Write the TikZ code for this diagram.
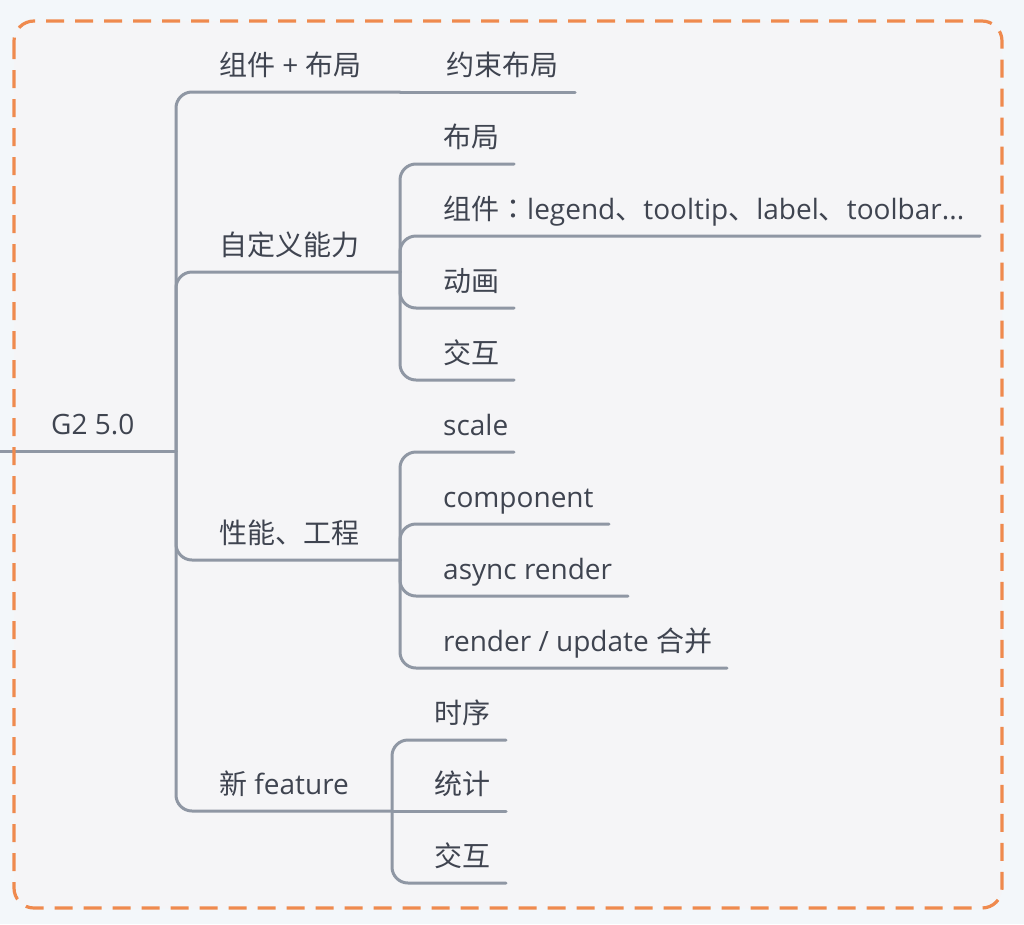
\documentclass[tikz,border=0pt]{standalone}
\usepackage{fontspec}
\setmainfont{Open Sans}
\newfontfamily\cjk{Noto Sans CJK SC}
\newfontfamily\cjktc{Noto Sans CJK TC}
\definecolor{outerbg}{HTML}{F3F7FA}
\definecolor{innerbg}{HTML}{F5F5F7}
\definecolor{framec}{HTML}{EF8A4E}
\definecolor{linec}{HTML}{8F97A4}
\definecolor{textc}{HTML}{3F4450}
\tikzset{
  link/.style={draw=linec, line width=3pt, rounded corners=16pt, line cap=round},
  lbl/.style={anchor=base west, inner sep=0pt, text=textc, font=\fontsize{28}{30}\selectfont},
}
\begin{document}
\begin{tikzpicture}[x=1pt, y=-1pt]
\useasboundingbox (0,0) rectangle (1024,924);
\fill[outerbg] (0,0) rectangle (1024,924);
\fill[innerbg, rounded corners=20pt] (14,21) rectangle (1002,908);

% branch points and end points
\coordinate (rootL) at (0,451);
\coordinate (r) at (176,451);
\coordinate (a) at (400,92);
\coordinate (aE) at (575,92);
\coordinate (b) at (400,272);
\coordinate (c) at (400,560);
\coordinate (d) at (392,811);
\coordinate (b1) at (514,164);
\coordinate (b2) at (980,236);
\coordinate (b3) at (514,308);
\coordinate (b4) at (514,380);
\coordinate (c1) at (514,452);
\coordinate (c2) at (609,524);
\coordinate (c3) at (628,596);
\coordinate (c4) at (727,668);
\coordinate (d1) at (506,740);
\coordinate (d2) at (506,811);
\coordinate (d3) at (506,883);

% connectors
\draw[link] (rootL) -- (r);
\draw[link] (r) |- (a);
\draw[link] (a) -- (aE);
\draw[link] (r) |- (b);
\draw[link] (r) |- (c);
\draw[link] (r) |- (d);
\draw[link] (b) |- (b1);
\draw[link] (b) |- (b2);
\draw[link] (b) |- (b3);
\draw[link] (b) |- (b4);
\draw[link] (c) |- (c1);
\draw[link] (c) |- (c2);
\draw[link] (c) |- (c3);
\draw[link] (c) |- (c4);
\draw[link] (d) |- (d1);
\draw[link] (d) -- (d2);
\draw[link] (d) |- (d3);

% labels
\node[lbl] (root) at (51,434) {G2 5.0};
\node[lbl] (t1) at (219,75) {{\cjk 组件} + {\cjk 布局}};
\node[lbl] (t11) at (446,75) {{\cjk 约束布局}};
\node[lbl] (t2) at (219,255) {{\cjk 自定义能力}};
\node[lbl] (t3) at (219,543) {{\cjk 性能、工程}};
\node[lbl] (t4) at (219,794) {{\cjk 新} feature};
\node[lbl] (t21) at (443,147) {{\cjk 布局}};
\node[lbl] (t22) at (443,219) {{\cjk 组件}{\cjktc ：}legend{\cjk 、}tooltip{\cjk 、}label{\cjk 、}toolbar...};
\node[lbl] (t23) at (443,291) {{\cjk 动画}};
\node[lbl] (t24) at (443,363) {{\cjk 交互}};
\node[lbl] (t31) at (443,435) {scale};
\node[lbl] (t32) at (443,507) {component};
\node[lbl] (t33) at (443,579) {async render};
\node[lbl] (t34) at (443,651) {render / update {\cjk 合并}};
\node[lbl] (t41) at (434,723) {{\cjk 时序}};
\node[lbl] (t42) at (434,794) {{\cjk 统计}};
\node[lbl] (t43) at (434,866) {{\cjk 交互}};

\draw[framec, line width=3.2pt, rounded corners=20pt, dash pattern=on 18pt off 11pt] (14,21) rectangle (1002,908);
\end{tikzpicture}
\end{document}
